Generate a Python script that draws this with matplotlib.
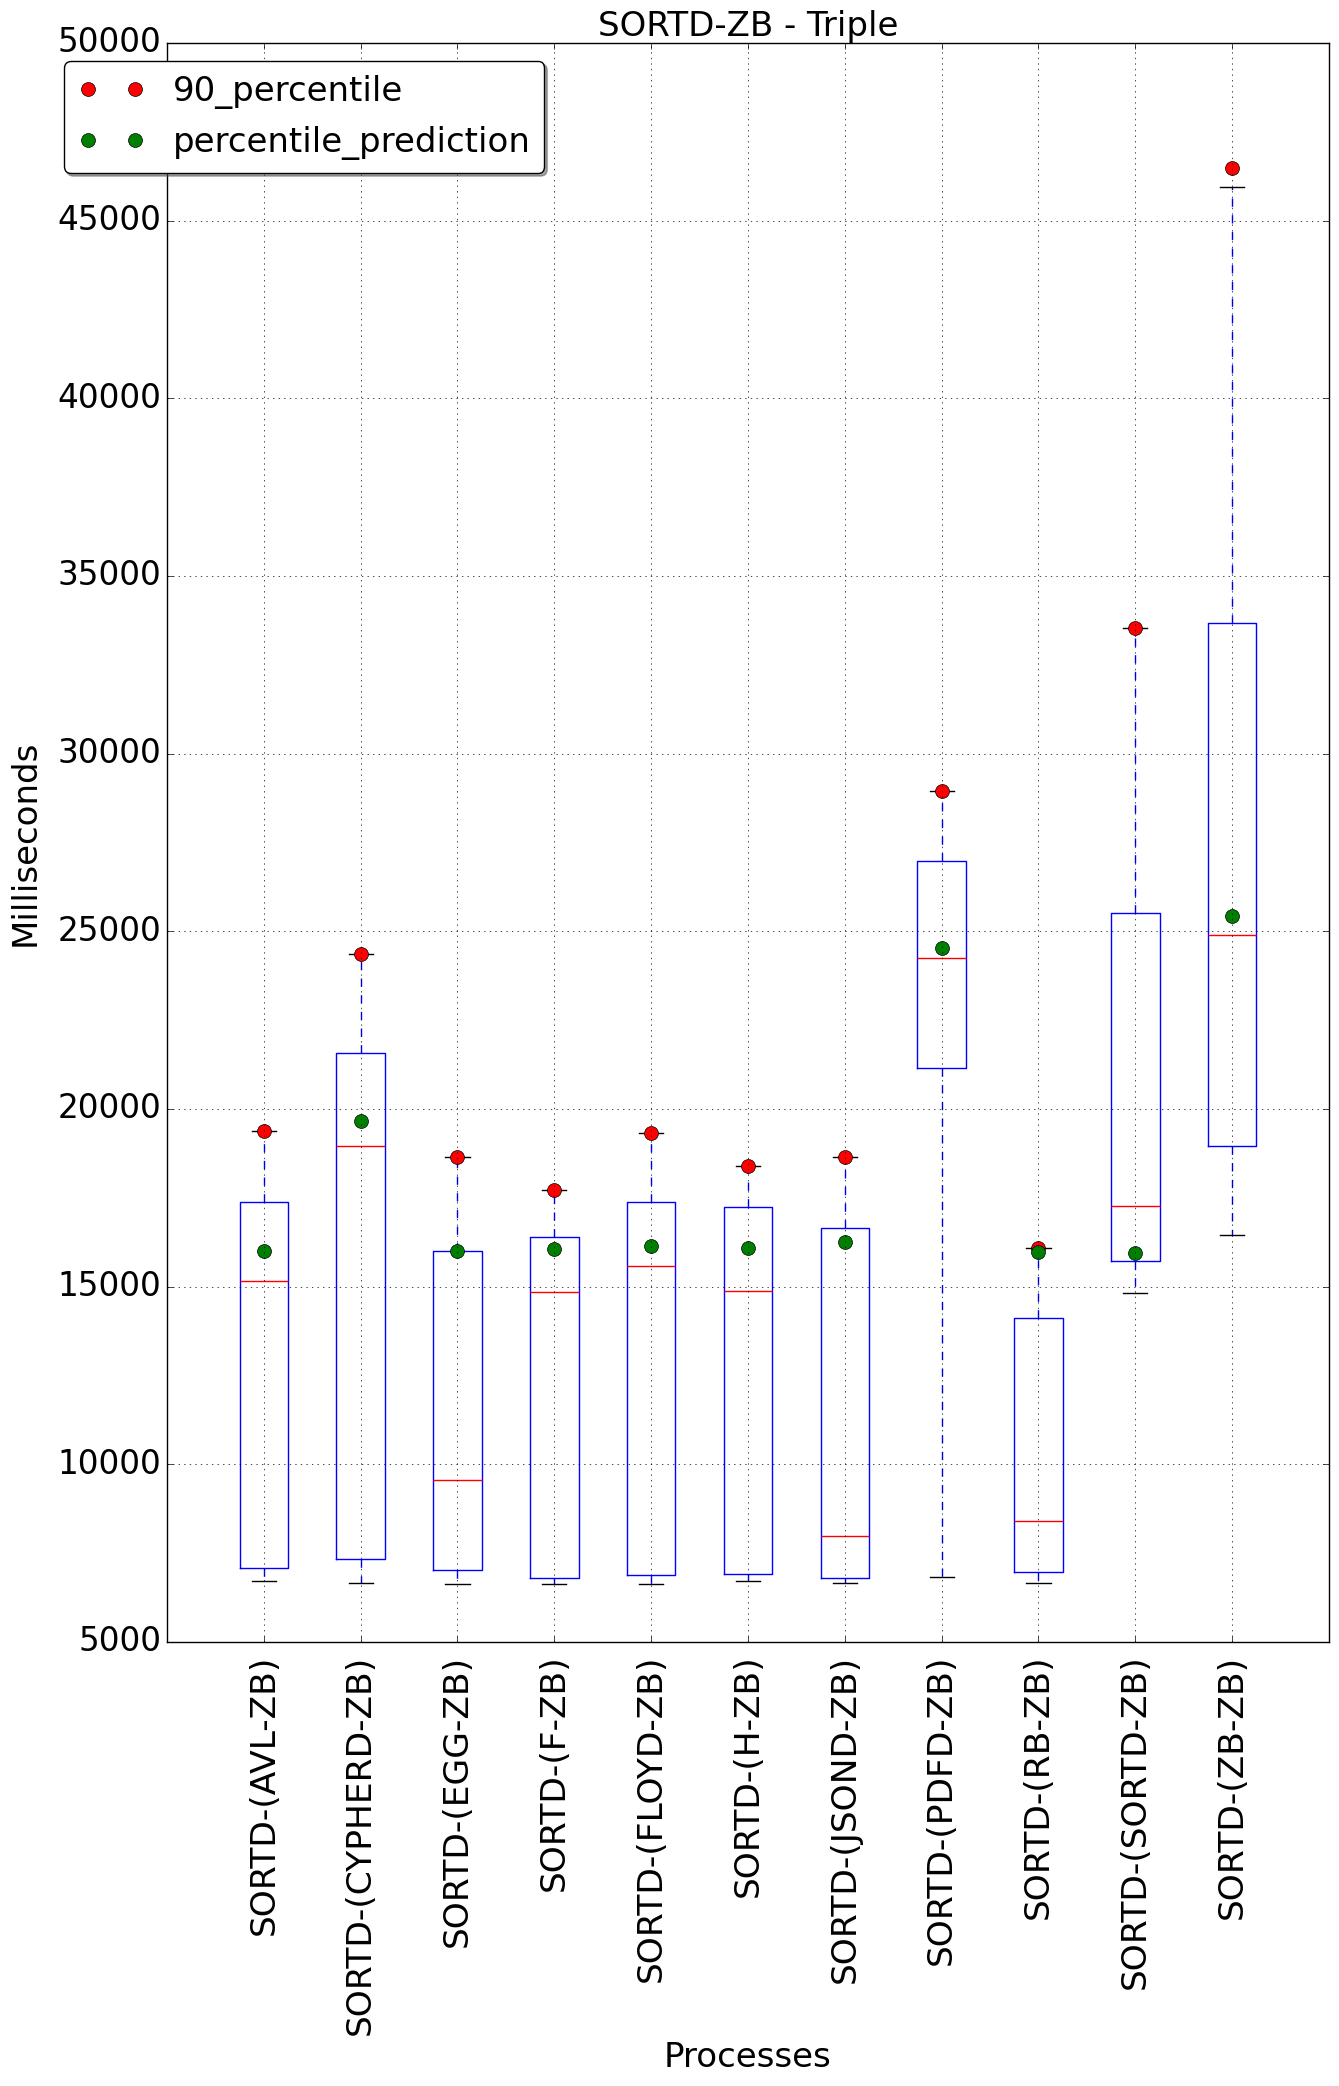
import matplotlib
matplotlib.use('Agg')
import matplotlib.pyplot as plt

plt.style.use('classic')

# dados
processos = ['SORTD-(AVL-ZB)', 'SORTD-(CYPHERD-ZB)', 'SORTD-(EGG-ZB)', 'SORTD-(F-ZB)',
             'SORTD-(FLOYD-ZB)', 'SORTD-(H-ZB)', 'SORTD-(JSOND-ZB)', 'SORTD-(PDFD-ZB)',
             'SORTD-(RB-ZB)', 'SORTD-(SORTD-ZB)', 'SORTD-(ZB-ZB)']
whis_lo = [6725, 6667, 6643, 6632, 6632, 6702, 6655, 6826, 6655, 14818, 16463]
q1 = [7088, 7345, 7029, 6807, 6889, 6912, 6809, 21139, 6962, 15721, 18968]
mediana = [15158, 18947, 9544, 14854, 15579, 14877, 7967, 24257, 8410, 17264, 24898]
q3 = [17392, 21586, 16012, 16398, 17392, 17240, 16640, 26984, 14119, 25511, 33679]
whis_hi = [19380, 24357, 18643, 17719, 19310, 18398, 18652, 28961, 16095, 33529, 45950]
percentil_90 = [19380, 24357, 18643, 17719, 19310, 18398, 18652, 28961, 16095, 33529, 46490]
predicao = [16012, 19673, 16012, 16070, 16140, 16094, 16248, 24530, 15976, 15959, 25443]

posicoes = list(range(1, len(processos) + 1))
stats = []
for i in range(len(processos)):
    stats.append({'label': processos[i], 'whislo': whis_lo[i], 'q1': q1[i], 'med': mediana[i],
                  'q3': q3[i], 'whishi': whis_hi[i], 'fliers': []})

fig = plt.figure(figsize=(13.39, 20.86), dpi=100)
ax = fig.add_axes([0.1247, 0.2129, 0.8678, 0.7665])

ax.bxp(stats, positions=posicoes, widths=0.5, showfliers=False)
ax.plot(posicoes, percentil_90, 'ro', markersize=10, label='90_percentile')
ax.plot(posicoes, predicao, 'go', markersize=10, label='percentile_prediction')

ax.set_xlim(0, 12)
ax.set_ylim(5000, 50000)
ax.set_xticks(posicoes)
ax.set_xticklabels(processos, rotation=90, fontsize=24.8)
ax.tick_params(axis='x', pad=9)
ax.tick_params(axis='y', labelsize=23.5)
ax.set_title('SORTD-ZB - Triple', fontsize=24.5)
ax.set_xlabel('Processes', fontsize=24.5)
ax.set_ylabel('Milliseconds', fontsize=24.5)
ax.xaxis.set_label_coords(0.5, -0.2495)
ax.yaxis.set_label_coords(-0.108, 0.5)
ax.grid(True)
ax.legend(loc='upper left', bbox_to_anchor=(-0.0886, 0.9887), borderaxespad=0,
          fancybox=True, shadow=True, fontsize=24.5, numpoints=2)

fig.savefig('out.png', dpi=100)
